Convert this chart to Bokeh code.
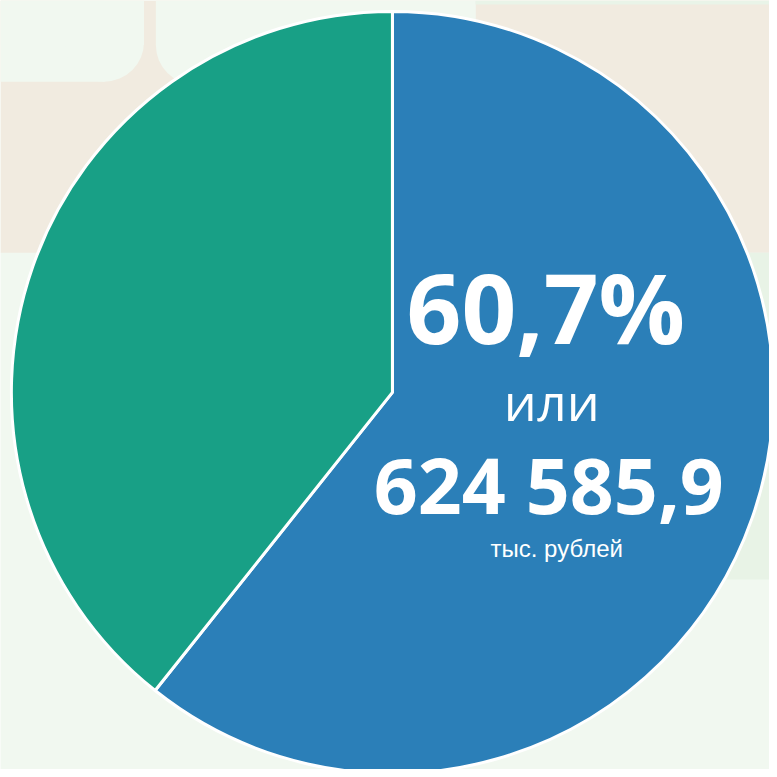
import math
from bokeh.plotting import figure
from bokeh.models import Range1d
from bokeh.core.properties import value
from bokeh.embed import file_html
from bokeh.resources import INLINE

# data
categories = ["Доля 1", "Доля 2"]
shares = [60.7, 39.3]
colors = ["#2B7FB8", "#18A086"]
share_label = "60,7%"
connector = "или"
amount_label = "624 585,9"
unit_label = "тыс. рублей"

W = 769
p = figure(width=W, height=W, x_range=Range1d(0, 777), y_range=Range1d(0, 777),
           output_backend="svg", toolbar_location=None, min_border=0)
p.axis.visible = False
p.grid.visible = False
p.outline_line_color = None
BG = "#F1F8F0"
BEIGE = "#F1EBE0"
p.background_fill_color = BG
p.border_fill_color = BG

def Y(py):
    return 777 - py

# background decoration
p.quad(left=0, right=777, top=Y(0), bottom=Y(255), fill_color=BEIGE, line_color=None)
p.quad(left=0, right=145, top=Y(0), bottom=Y(45), fill_color=BG, line_color=None)
p.quad(left=0, right=105, top=Y(0), bottom=Y(82), fill_color=BG, line_color=None)
p.ellipse(x=105, y=Y(42), width=80, height=80, fill_color=BG, line_color=None)
p.quad(left=157, right=480, top=Y(0), bottom=Y(45), fill_color=BG, line_color=None)
p.quad(left=197, right=480, top=Y(0), bottom=Y(88), fill_color=BG, line_color=None)
p.ellipse(x=197, y=Y(45), width=80, height=80, fill_color=BG, line_color=None)
p.quad(left=480, right=777, top=Y(0), bottom=Y(4), fill_color="#E9F4E8", line_color=None)
p.quad(left=600, right=777, top=Y(255), bottom=Y(585), fill_color="#E8F3E6", line_color=None)

# pie
cx, cy, r = 396, Y(396), 385
total = sum(shares)
start = math.pi / 2
starts, ends = [], []
for s in shares:
    ang = 2 * math.pi * s / total
    starts.append(start - ang)
    ends.append(start)
    start -= ang
p.wedge(x=cx, y=cy, radius=r, start_angle=starts, end_angle=ends,
        fill_color=colors, line_color="white", line_width=3)

font = value("Open Sans")
p.text(x=[551], y=[Y(309)], text=[share_label], text_font=font, text_font_style="bold",
       text_font_size="96px", text_color="white", text_align="center", text_baseline="alphabetic")
p.text(x=[557], y=[Y(404)], text=[connector], text_font=font,
       text_font_size="52px", text_color="white", text_align="center", text_baseline="alphabetic")
p.text(x=[554], y=[Y(489)], text=[amount_label], text_font=font, text_font_style="bold",
       text_font_size="77px", text_color="white", text_align="center", text_baseline="alphabetic")
p.text(x=[562], y=[Y(554)], text=[unit_label], text_font=value("Liberation Sans"),
       text_font_size="24px", text_color="white", text_align="center", text_baseline="alphabetic")

open("out.html", "w").write(file_html(p, INLINE))
